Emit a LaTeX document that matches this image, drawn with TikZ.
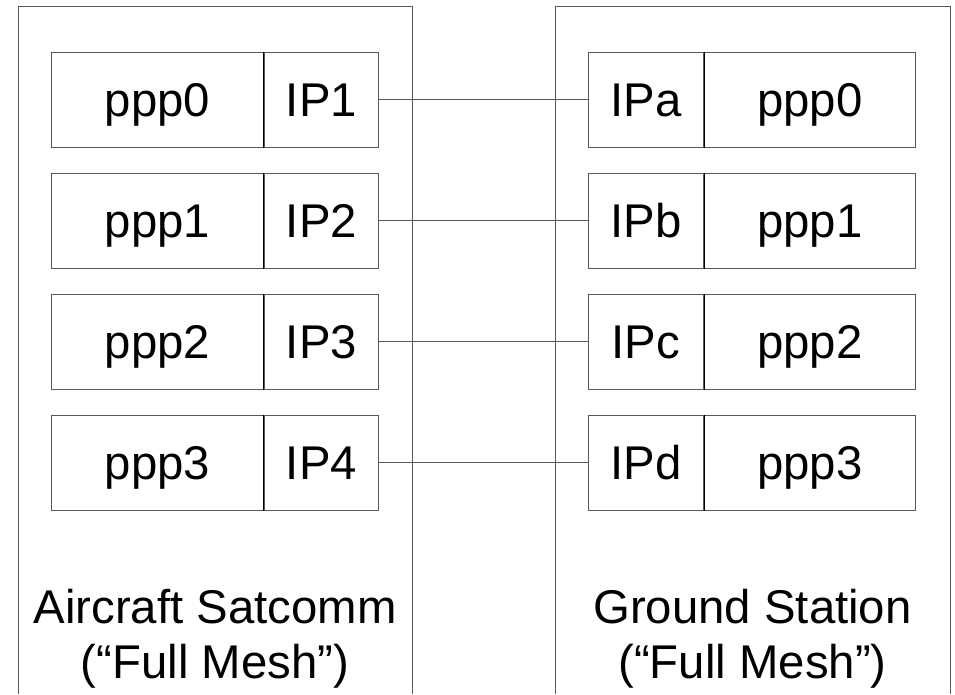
\documentclass[tikz,border=0pt]{standalone}
\usepackage{fontspec}
\setmainfont{Liberation Sans}
\usetikzlibrary{positioning}

\tikzset{
	cell/.style={draw=black!65, line width=0.75pt, inner sep=0pt, minimum height=71.6pt,
		text height=25.4pt, text depth=0pt, font=\fontsize{35.5}{41.25}\selectfont},
	pppcell/.style={cell, minimum width=158.5pt},
	ipcell/.style={cell, minimum width=86pt},
	link/.style={draw=black!65, line width=0.75pt},
	frame/.style={draw=black!65, line width=0.75pt},
	sysname/.style={anchor=base, align=center, inner sep=0pt, font=\fontsize{35.5}{41.25}\selectfont}
}

\begin{document}
\begin{tikzpicture}[x=0.75pt,y=0.75pt,yscale=-1,xscale=1]
	\useasboundingbox (0,0) rectangle (955,694);
	
	%outer frames, open at the bottom
	\draw[frame] (18,694) -- (18,6) -- (412,6) -- (412,694);
	\draw[frame] (555,694) -- (555,6) -- (950,6) -- (950,694);
	
	%interface rows
	\foreach \i/\l/\r in {0/1/a,1/2/b,2/3/c,3/4/d}{
		\node[pppcell] (lp\i) at (157.5,99.75+121*\i) {ppp\i};
		\node[ipcell, right=0pt of lp\i] (lip\i) {IP\l};
		\node[pppcell] (rp\i) at (810,99.75+121*\i) {ppp\i};
		\node[ipcell, left=0pt of rp\i] (rip\i) {IP\r};
		\draw (lp\i.north east) -- (lp\i.south east);
		\draw (rp\i.north west) -- (rp\i.south west);
		\draw[link] (lip\i) -- (rip\i);
	}
	
	%system names (base = last line)
	\node[sysname] (aircraft) at (215,678) {Aircraft Satcomm\\(“Full Mesh”)};
	\node[sysname] (ground) at (752.5,678) {Ground Station\\(“Full Mesh”)};
	
\end{tikzpicture}
\end{document}
